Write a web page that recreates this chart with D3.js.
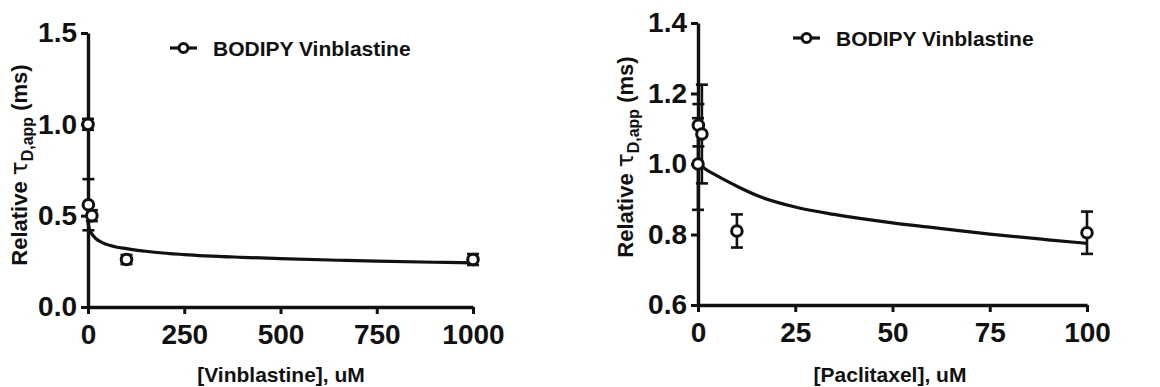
<!DOCTYPE html>
<html><head><meta charset="utf-8">
<script src="https://cdn.jsdelivr.net/npm/d3@7"></script>
<style>
body{margin:0;background:#fff;}
text{font-family:"Liberation Sans",Arial,sans-serif;font-weight:bold;fill:#111;}
</style></head>
<body><svg id="c" width="1160" height="387"></svg>
<script>
// Left panel: [Vinblastine]
const vinX = [0, 1, 10, 100, 1000];
const vinY = [1.0, 0.56, 0.5, 0.26, 0.26];
const vinErr = [0.03, 0.14, 0.03, 0.025, 0.03];
const vinFitX = [0, 2, 5, 10, 20, 40, 70, 100, 150, 250, 400, 500, 650, 750, 900, 1000];
const vinFitY = [0.46, 0.44, 0.42, 0.40, 0.375, 0.35, 0.33, 0.32, 0.305, 0.287, 0.272, 0.265, 0.256, 0.251, 0.245, 0.242];
const vinXTicks = [0, 250, 500, 750, 1000];
const vinYTicks = [0.0, 0.5, 1.0, 1.5];

// Right panel: [Paclitaxel]
const pacX = [0, 0.1, 1, 10, 100];
const pacY = [1.0, 1.11, 1.085, 0.81, 0.805];
const pacErr = [0.13, 0.06, 0.14, 0.047, 0.06];
const pacFitX = [0, 1, 2, 4, 6, 10, 16, 25, 35, 50, 60, 75, 90, 100];
const pacFitY = [1.01, 0.995, 0.985, 0.972, 0.96, 0.937, 0.907, 0.878, 0.857, 0.833, 0.82, 0.801, 0.785, 0.775];
const pacXTicks = [0, 25, 50, 75, 100];
const pacYTicks = [0.6, 0.8, 1.0, 1.2, 1.4];

const legendLabel = "BODIPY Vinblastine";

const svg = d3.select("#c");

function panel(o){
  const g = svg.append("g");
  const x = d3.scaleLinear().domain(o.xd).range([o.x0, o.x1]);
  const y = d3.scaleLinear().domain(o.yd).range([o.y0, o.y1]);
  const xa = g.append("g").attr("transform",`translate(0,${o.y0})`)
    .call(d3.axisBottom(x).tickValues(o.xt).tickSize(7).tickSizeOuter(0).tickPadding(10).tickFormat(d3.format("d")));
  const ya = g.append("g").attr("transform",`translate(${o.x0},0)`)
    .call(d3.axisLeft(y).tickValues(o.yt).tickSize(7).tickSizeOuter(0).tickPadding(4).tickFormat(d3.format(".1f")));
  [xa,ya].forEach(a=>{
    a.select(".domain").attr("stroke","#111").attr("stroke-width",3.4);
    a.selectAll(".tick line").attr("stroke","#111").attr("stroke-width",3);
    a.selectAll("text").style("font-size","28px").style("font-weight","bold")
      .style("font-family","'Liberation Sans',Arial,sans-serif").attr("fill","#111");
  });
  const line = d3.line().x(d=>x(d[0])).y(d=>y(d[1])).curve(d3.curveMonotoneX);
  g.append("path").datum(o.fx.map((v,i)=>[v,o.fy[i]]))
    .attr("d",line).attr("fill","none").attr("stroke","#111").attr("stroke-width",3.2);
  const pts = o.px.map((v,i)=>({x:v,y:o.py[i],e:o.pe[i]}));
  const eb = g.append("g");
  pts.forEach(p=>{
    const cx = x(p.x);
    eb.append("line").attr("x1",cx).attr("x2",cx).attr("y1",y(p.y+p.e)).attr("y2",y(p.y-p.e)).attr("stroke","#111").attr("stroke-width",2.6);
    [p.y+p.e,p.y-p.e].forEach(v=>eb.append("line").attr("x1",cx-6).attr("x2",cx+6).attr("y1",y(v)).attr("y2",y(v)).attr("stroke","#111").attr("stroke-width",2.6));
  });
  g.selectAll("circle.pt").data(pts).join("circle").attr("class","pt")
    .attr("cx",d=>x(d.x)).attr("cy",d=>y(d.y)).attr("r",5.3)
    .attr("fill","#fff").attr("stroke","#111").attr("stroke-width",3);
  g.append("line").attr("x1",o.lx).attr("x2",o.lx+27).attr("y1",o.ly).attr("y2",o.ly).attr("stroke","#111").attr("stroke-width",3.2);
  g.append("circle").attr("cx",o.lx+13.5).attr("cy",o.ly).attr("r",4.5).attr("fill","#fff").attr("stroke","#111").attr("stroke-width",3);
  g.append("text").attr("x",o.lx+43).attr("y",o.ly+7.5).style("font-size","21px").text(legendLabel);
  g.append("text").attr("x",o.xtx).attr("y",382).attr("text-anchor","middle").style("font-size","21px").text(o.xtitle);
  const yt = g.append("text").attr("transform",`translate(${o.ytx},${o.yty}) rotate(-90)`).attr("text-anchor","middle").style("font-size","22px");
  yt.append("tspan").text("Relative ");
  yt.append("tspan").style("font-family","'DejaVu Sans',sans-serif").style("font-weight","normal").style("font-size","23px").text("τ");
  yt.append("tspan").attr("dy",6).style("font-size","16px").text("D,app");
  yt.append("tspan").attr("dy",-6).text(" (ms)");
}

panel({x0:88,x1:473,y0:307,y1:33,xd:[0,1000],yd:[0,1.5],xt:vinXTicks,yt:vinYTicks,
  fx:vinFitX,fy:vinFitY,px:vinX,py:vinY,pe:vinErr,lx:170,ly:48,
  xtitle:"[Vinblastine], uM",xtx:281,ytx:27,yty:165});
panel({x0:698,x1:1087,y0:305,y1:23,xd:[0,100],yd:[0.6,1.4],xt:pacXTicks,yt:pacYTicks,
  fx:pacFitX,fy:pacFitY,px:pacX,py:pacY,pe:pacErr,lx:793,ly:38,
  xtitle:"[Paclitaxel], uM",xtx:890,ytx:633,yty:157});
</script></body></html>
